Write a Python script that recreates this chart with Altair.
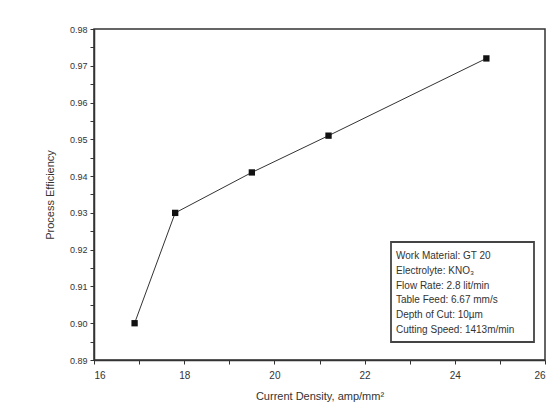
import altair as alt
import pandas as pd

current_density = [16.9, 17.8, 19.5, 21.2, 24.7]
efficiency = [0.900, 0.930, 0.941, 0.951, 0.972]

x_ticks = list(range(16, 27))
y_ticks = [round(0.89 + 0.005 * i, 3) for i in range(19)]

note_lines = [
    "Work Material: GT 20",
    "Electrolyte: KNO\u2083",
    "Flow Rate: 2.8 lit/min",
    "Table Feed: 6.67 mm/s",
    "Depth of Cut: 10\u00b5m",
    "Cutting Speed: 1413m/min",
]

df = pd.DataFrame({"x": current_density, "y": efficiency})
notes = pd.DataFrame({"t": note_lines, "i": list(range(len(note_lines)))})

FONT = "Liberation Sans"
INK = "#333333"

xs = alt.Scale(domain=[16, 26], nice=False)
ys = alt.Scale(domain=[0.89, 0.98], nice=False, zero=False)

xaxis = alt.Axis(
    values=x_ticks,
    labelExpr="datum.value % 2 == 0 ? datum.label : ''",
    title="Current Density, amp/mm\u00b2",
    grid=False, tickSize=4, tickColor=INK, domainColor=INK, domainWidth=1.5,
    labelFont=FONT, labelFontSize=10, labelColor=INK, labelPadding=6,
    titleFont=FONT, titleFontSize=11, titleFontWeight="normal", titleColor=INK, titlePadding=10,
)
yaxis = alt.Axis(
    values=y_ticks,
    labelExpr="(round(datum.value * 1000) % 10 == 0) ? format(datum.value, '.2f') : ''",
    title="Process Efficiency",
    grid=False, tickSize=4, tickColor=INK, domainColor=INK, domainWidth=1.5,
    labelFont=FONT, labelFontSize=9, labelColor=INK, labelPadding=3,
    titleFont=FONT, titleFontSize=11, titleFontWeight="normal", titleColor=INK, titlePadding=14,
)

line = alt.Chart(df).mark_line(color=INK, strokeWidth=1).encode(
    x=alt.X("x:Q", scale=xs, axis=xaxis),
    y=alt.Y("y:Q", scale=ys, axis=yaxis),
)
pts = alt.Chart(df).mark_square(color="#111111", size=40, opacity=1).encode(
    x=alt.X("x:Q", scale=xs, axis=xaxis),
    y=alt.Y("y:Q", scale=ys, axis=None),
)

box = alt.Chart(pd.DataFrame({"a": [0]})).mark_rect(
    fill="white", stroke="#444444", strokeWidth=1.8
).encode(
    x=alt.value(297), x2=alt.value(440), y=alt.value(213), y2=alt.value(313)
)

txt = alt.Chart(notes).mark_text(
    align="left", baseline="middle", font=FONT, fontSize=10, color=INK
).encode(
    x=alt.value(302),
    y=alt.Y("i:Q", scale=alt.Scale(domain=[0, 5], range=[227, 301]), axis=None),
    text="t:N",
)

chart = alt.layer(line, pts, box, txt).resolve_scale(y="independent").properties(
    width=451, height=331,
    autosize=alt.AutoSizeParams(type="none"),
    padding={"left": 86, "top": 21, "right": 2, "bottom": 45},
    background="white",
).configure_view(stroke=INK, strokeWidth=1.5)

chart.save("out.html", embed_options={"renderer": "svg", "actions": False})
